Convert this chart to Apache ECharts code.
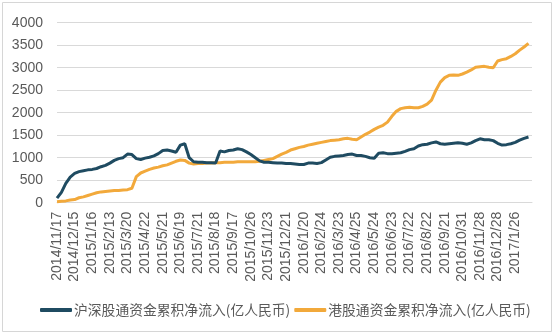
<!DOCTYPE html>
<html>
<head>
<meta charset="utf-8">
<script src="https://cdn.jsdelivr.net/npm/echarts@6/dist/echarts.min.js"></script>
<style>
  html, body { margin: 0; padding: 0; background: #ffffff; }
  #chart { width: 554px; height: 335px; }
</style>
</head>
<body>
<div id="chart"></div>
<script>
// Tick labels on the date axis: one every 20 trading days
const dateLabels = [
  '2014/11/17', '2014/12/15', '2015/1/16', '2015/2/13', '2015/3/20', '2015/4/22',
  '2015/5/21', '2015/6/19', '2015/7/21', '2015/8/18', '2015/9/17', '2015/10/26',
  '2015/11/23', '2015/12/21', '2016/1/20', '2016/2/24', '2016/3/23', '2016/4/25',
  '2016/5/24', '2016/6/23', '2016/7/22', '2016/8/22', '2016/9/21', '2016/10/31',
  '2016/11/28', '2016/12/28', '2017/1/26'
];
const labelEvery = 20;   // trading days between labelled dates
const sampleEvery = 5;   // trading days between samples below

const seriesNames = ['沪深股通资金累积净流入(亿人民币)', '港股通资金累积净流入(亿人民币)'];

// Cumulative net inflow, northbound (亿人民币), sampled every 5 trading days
const northbound = [
  100, 230, 430, 570, 650, 690, 710, 730, 740, 760,
  800, 830, 880, 940, 980, 1000, 1080, 1070, 980, 960,
  990, 1010, 1040, 1090, 1160, 1170, 1150, 1120, 1280, 1310,
  1000, 910, 900, 900, 890, 890, 880, 1150, 1130, 1160,
  1170, 1200, 1180, 1130, 1070, 1000, 930, 900, 900, 890,
  880, 880, 870, 870, 860, 850, 850, 880, 880, 870,
  890, 950, 1010, 1030, 1040, 1050, 1070, 1080, 1050, 1050,
  1030, 1000, 990, 1100, 1110, 1090, 1090, 1100, 1110, 1140,
  1180, 1200, 1260, 1290, 1300, 1330, 1350, 1310, 1300, 1310,
  1320, 1330, 1320, 1300, 1330, 1380, 1420, 1400, 1400, 1380,
  1320, 1280, 1290, 1310, 1340, 1390, 1430, 1460
];

// Cumulative net inflow, southbound (亿人民币), same sampling
const southbound = [
  20, 30, 40, 60, 70, 110, 130, 160, 190, 220,
  240, 250, 260, 270, 270, 280, 290, 320, 580, 660,
  700, 740, 770, 790, 820, 840, 880, 920, 950, 940,
  880, 860, 870, 870, 880, 880, 890, 890, 900, 900,
  900, 910, 910, 910, 910, 910, 920, 940, 960, 980,
  1030, 1080, 1120, 1170, 1200, 1230, 1250, 1280, 1300, 1320,
  1340, 1360, 1380, 1390, 1400, 1420, 1430, 1410, 1400, 1460,
  1520, 1570, 1630, 1680, 1720, 1790, 1920, 2030, 2090, 2110,
  2120, 2110, 2110, 2140, 2190, 2280, 2500, 2680, 2780, 2830,
  2840, 2830, 2860, 2900, 2950, 3010, 3020, 3030, 3010, 3000,
  3150, 3180, 3200, 3250, 3310, 3390, 3460, 3540
];

const yTicks = { min: 0, max: 4000, interval: 500 };

const toPairs = vals => vals.map((v, i) => [i * sampleEvery, v]);

const chart = echarts.init(document.getElementById('chart'), null, { renderer: 'canvas' });

const textColor = '#595959';
const gridColor = '#d9d9d9';
const fontFamily = '"Liberation Sans", Arial, sans-serif';

chart.setOption({
  animation: false,
  backgroundColor: '#ffffff',
  graphic: [{
    type: 'rect',
    shape: { x: 2.5, y: 2.5, width: 549, height: 329 },
    style: { fill: 'none', stroke: '#d6d6d6', lineWidth: 1 },
    silent: true
  }],
  grid: { left: 57, right: 22, top: 22.7, bottom: 132.3 },
  xAxis: {
    type: 'value',
    min: 0,
    max: 539,
    interval: labelEvery,
    axisLine: { show: true, lineStyle: { color: gridColor, width: 1 } },
    axisTick: { show: false },
    splitLine: { show: false },
    axisLabel: {
      rotate: 90,
      margin: 9,
      color: textColor,
      fontSize: 14,
      fontFamily: fontFamily,
      showMaxLabel: true,
      formatter: v => {
        const k = v / labelEvery;
        return Number.isInteger(k) && k < dateLabels.length ? dateLabels[k] : '';
      }
    }
  },
  yAxis: {
    type: 'value',
    min: yTicks.min,
    max: yTicks.max,
    interval: yTicks.interval,
    axisLine: { show: false },
    axisTick: { show: false },
    splitLine: { lineStyle: { color: gridColor, width: 1 } },
    axisLabel: {
      color: textColor,
      fontSize: 14,
      fontFamily: fontFamily,
      margin: 14,
      formatter: v => String(v)
    }
  },
  legend: {
    left: 35,
    top: 298,
    itemWidth: 32,
    itemHeight: 4,
    itemGap: 4,
    icon: 'roundRect',
    textStyle: {
      color: textColor,
      fontSize: 13.8,
      fontFamily: '"Noto Sans CJK SC", sans-serif',
      padding: [0, 0, 0, -3]
    },
    data: seriesNames
  },
  series: [
    {
      name: seriesNames[0],
      type: 'line',
      data: toPairs(northbound),
      symbol: 'none',
      lineStyle: { color: '#1f4b61', width: 3 },
      itemStyle: { color: '#1f4b61' },
      z: 3
    },
    {
      name: seriesNames[1],
      type: 'line',
      data: toPairs(southbound),
      symbol: 'none',
      lineStyle: { color: '#f2a93b', width: 3 },
      itemStyle: { color: '#f2a93b' },
      z: 2
    }
  ]
});
</script>
</body>
</html>
